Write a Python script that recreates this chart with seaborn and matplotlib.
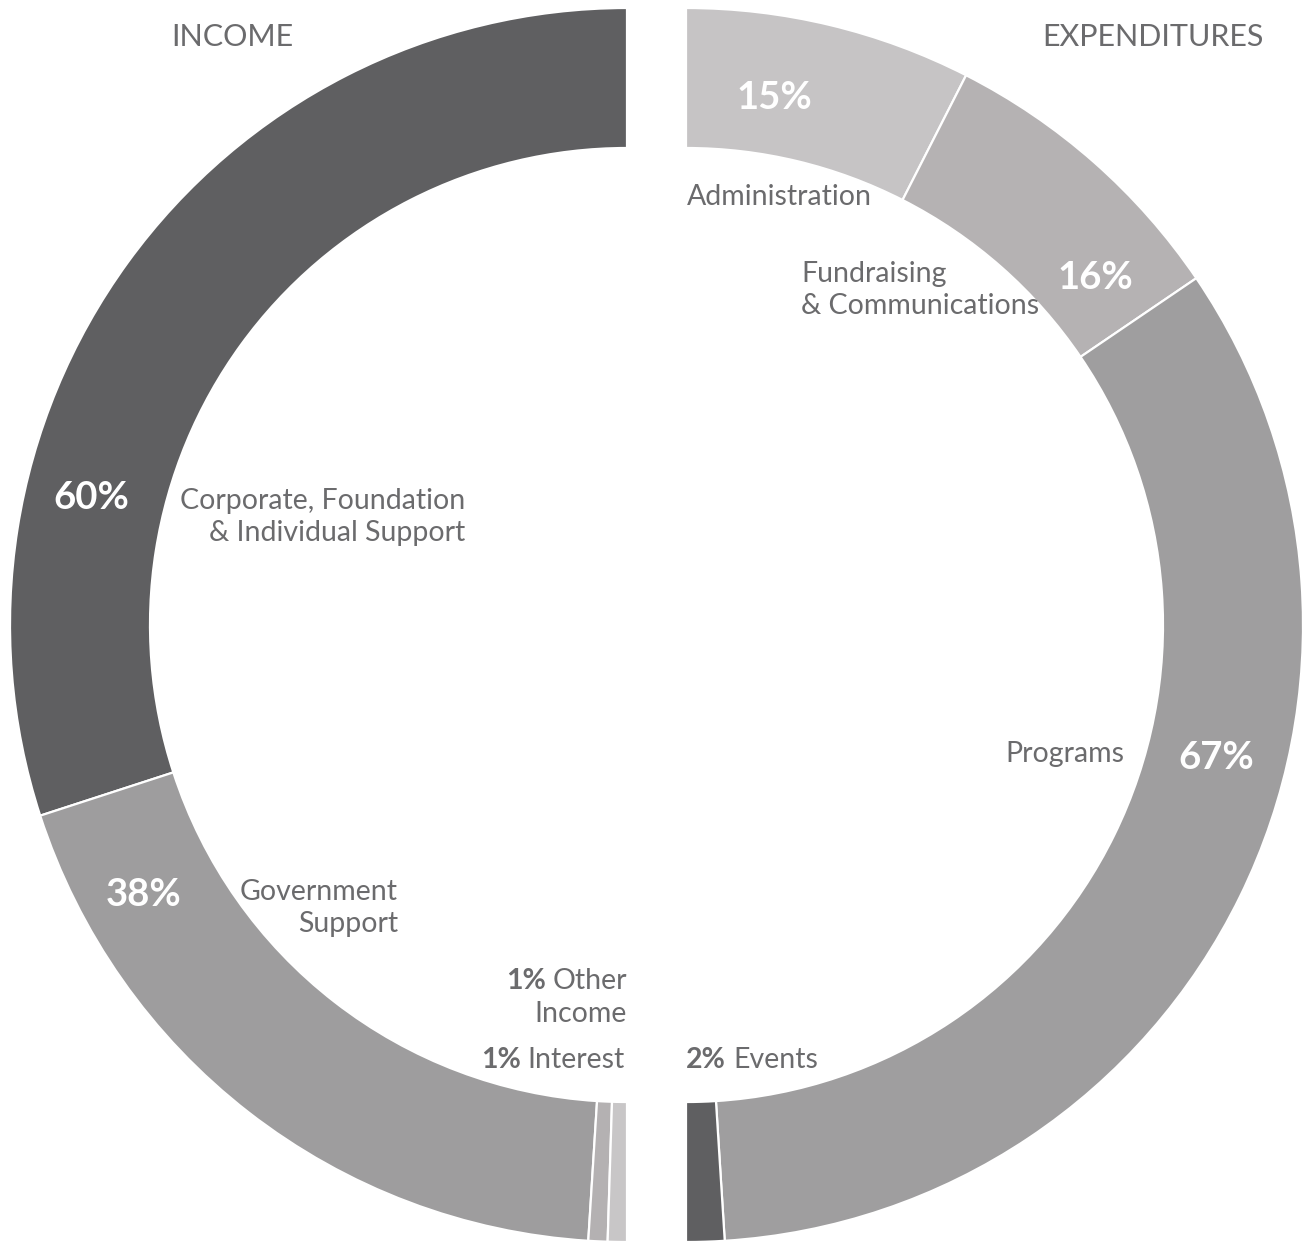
import matplotlib
matplotlib.use("Agg")
import matplotlib.pyplot as plt
import seaborn as sns

# data
income_labels = ["Corporate, Foundation\n& Individual Support", "Government\nSupport", "Other\nIncome", "Interest"]
income_pct = [60, 38, 1, 1]
income_colors = ["#5f5f61", "#9e9d9e", "#b4b1b2", "#c8c6c7"]

expense_labels = ["Administration", "Fundraising\n& Communications", "Programs", "Events"]
expense_pct = [15, 16, 67, 2]
expense_colors = ["#c6c4c5", "#b5b2b3", "#9f9e9f", "#5f5f61"]

W, H = 1302, 1243
TXT = "#6b6b6d"

sns.set_theme(style="white")
plt.rcParams['font.family'] = ['Lato', 'DejaVu Sans']

fig = plt.figure(figsize=(W / 100, H / 100), dpi=100)
ax = fig.add_axes([0, 0, 1, 1])

def Y(y):
    # pixel row -> data y (y up)
    return H - y

R, RING = 617, 140
wp = dict(width=RING, edgecolor="white", linewidth=1.6)

# each side is a half donut: values are shares of 180 degrees
ax.pie([p / 200 for p in income_pct], normalize=False, startangle=90, counterclock=True,
       center=(627, Y(625)), radius=R, colors=income_colors, wedgeprops=wp)
ax.pie([p / 200 for p in expense_pct], normalize=False, startangle=90, counterclock=False,
       center=(686, Y(625)), radius=R, colors=expense_colors, wedgeprops=wp)

ax.set_xlim(0, W)
ax.set_ylim(0, H)
ax.set_aspect("equal")
ax.set_axis_off()

fs_lab = 20.5
fs_big = 27.5

# headers
ax.text(232, Y(37), "INCOME", ha="center", va="center", fontsize=22, color=TXT)
ax.text(1153, Y(37), "EXPENDITURES", ha="center", va="center", fontsize=22, color=TXT)

# big white percentages inside the ring
big = [(91, 498, income_pct[0]), (144, 895, income_pct[1]),
       (774, 98, expense_pct[0]), (1095, 278, expense_pct[1]), (1216, 758, expense_pct[2])]
for x, y, p in big:
    ax.text(x, Y(y), f"{p}%", ha="center", va="center", fontsize=fs_big,
            fontweight="bold", color="white")

# category labels
lab_kw = dict(fontsize=fs_lab, color=TXT, linespacing=1.3)
ax.text(465, Y(517), income_labels[0], ha="right", va="center", **lab_kw)
ax.text(398, Y(908), income_labels[1], ha="right", va="center", **lab_kw)
ax.text(687, Y(197), expense_labels[0], ha="left", va="center", **lab_kw)
ax.text(801, Y(290), expense_labels[1], ha="left", va="center", **lab_kw)
ax.text(1124, Y(754), expense_labels[2], ha="right", va="center", **lab_kw)

# small slices: bold percent followed by regular label
fig.canvas.draw()
rend = fig.canvas.get_renderer()

def px_width(t):
    bb = t.get_window_extent(renderer=rend)
    return bb.width

# 1% Other / Income (right aligned)
t1 = ax.text(627, Y(981), "Other", ha="right", va="center", **lab_kw)
ax.text(627, Y(1014), "Income", ha="right", va="center", **lab_kw)
ax.text(627 - px_width(t1) - 7, Y(981), f"{income_pct[2]}%", ha="right", va="center",
        fontsize=fs_lab, fontweight="bold", color=TXT)

# 1% Interest (right aligned)
t2 = ax.text(625, Y(1060), income_labels[3], ha="right", va="center", **lab_kw)
ax.text(625 - px_width(t2) - 7, Y(1060), f"{income_pct[3]}%", ha="right", va="center",
        fontsize=fs_lab, fontweight="bold", color=TXT)

# 2% Events (left aligned)
t3 = ax.text(686, Y(1060), f"{expense_pct[3]}%", ha="left", va="center",
             fontsize=fs_lab, fontweight="bold", color=TXT)
ax.text(686 + px_width(t3) + 7, Y(1060), expense_labels[3], ha="left", va="center", **lab_kw)

fig.savefig("out.png", dpi=100, facecolor="white")
